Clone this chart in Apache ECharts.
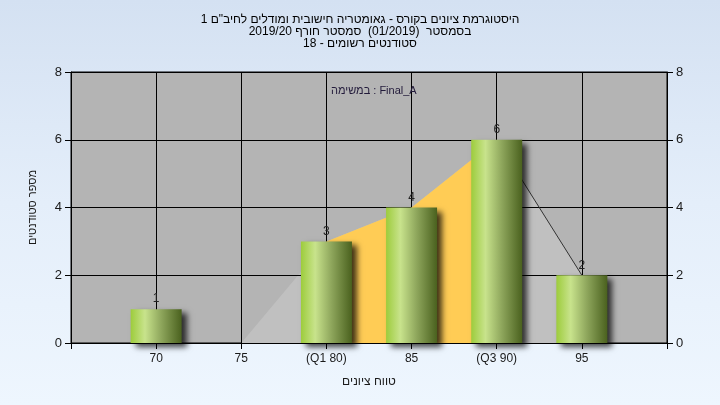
<!DOCTYPE html>
<html>
<head>
<meta charset="utf-8">
<script src="https://cdn.jsdelivr.net/npm/echarts@6/dist/echarts.min.js"></script>
<style>
html,body{margin:0;padding:0;width:720px;height:405px;overflow:hidden;}
body{background:linear-gradient(to bottom,#d4e1f2 0%,#e4eefa 50%,#eef6fe 100%);}
#chart{width:720px;height:405px;}
</style>
</head>
<body>
<div id="chart"></div>
<script>
// ---- data ----
var categories = ['65', '70', '75', '(Q1 80)', '85', '(Q3 90)', '95', '100'];
var hiddenLabels = ['65', '100'];
var counts = ['-', 1, 0, 3, 4, 6, 2, '-'];
var distribution = ['-', 0, 0, 3, 4, 6, 2, '-'];
var interQuartile = ['-', '-', '-', 3, 4, 6, '-', '-'];
var tailLine = ['-', '-', '-', '-', '-', 6, 2, '-'];
var yTicks = [0, 2, 4, 6, 8];
var titleLines = [
  'היסטוגרמת ציונים בקורס - גאומטריה חישובית ומודלים לחיב"ם 1',
  'בסמסטר  (01/2019)  סמסטר חורף 2019/20',
  'סטודנטים רשומים - 18'
];
var taskLabel = 'במשימה : Final_A';
var yName = 'מספר סטודנטים';
var xName = 'טווח ציונים';

var FONT = '"Liberation Sans", "DejaVu Sans", Arial, sans-serif';
var chart = echarts.init(document.getElementById('chart'), null, {renderer: 'canvas'});

var barGradient = new echarts.graphic.LinearGradient(0, 0, 1, 0, [
  {offset: 0, color: '#9dcc3c'},
  {offset: 0.28, color: '#c8e38c'},
  {offset: 0.6, color: '#8ea65c'},
  {offset: 1, color: '#4a611e'}
]);

var yMin = yTicks[0], yMax = yTicks[yTicks.length - 1], yInt = yTicks[1] - yTicks[0];

var option = {
  animation: false,
  backgroundColor: 'transparent',
  textStyle: {fontFamily: FONT},
  title: [
    {
      text: titleLines.map(function (s) { return '\u202B' + s + '\u202C'; }).join('\n'),
      left: 'center',
      top: 9,
      textStyle: {fontSize: 12, fontWeight: 'normal', color: '#000', lineHeight: 12, fontFamily: FONT}
    },
    {
      text: taskLabel,
      left: 326,
      top: 80,
      textStyle: {fontSize: 11, fontWeight: 'normal', color: '#221a3a', fontFamily: FONT}
    }
  ],
  grid: {
    left: 71, right: 53, top: 72, bottom: 62,
    show: true,
    backgroundColor: '#b4b4b4',
    borderColor: '#000',
    borderWidth: 1,
    z: 0
  },
  xAxis: {
    type: 'category',
    data: categories,
    boundaryGap: false,
    z: 3,
    name: xName,
    nameLocation: 'middle',
    nameGap: 33,
    nameTextStyle: {fontSize: 12, color: '#1a1a1a', fontFamily: FONT},
    axisLine: {show: true, lineStyle: {color: '#000', width: 1}},
    axisTick: {show: true, length: 6, inside: false, alignWithLabel: true, lineStyle: {color: '#000'}},
    axisLabel: {
      show: true, margin: 10, fontSize: 12, color: '#1a1a1a', fontFamily: FONT,
      interval: 0,
      formatter: function (v) { return hiddenLabels.indexOf(v) >= 0 ? '' : v; }
    },
    splitLine: {show: true, lineStyle: {color: '#000', width: 1}}
  },
  yAxis: [
    {
      type: 'value', min: yMin, max: yMax, interval: yInt,
      position: 'left',
      z: 3,
      name: yName,
      nameLocation: 'middle',
      nameGap: 33,
      nameRotate: 90,
      nameTextStyle: {fontSize: 11, color: '#1a1a1a', fontFamily: FONT},
      axisLine: {show: true, lineStyle: {color: '#000', width: 1}},
      axisTick: {show: true, length: 6, lineStyle: {color: '#000'}},
      axisLabel: {fontSize: 13, color: '#1a1a1a', margin: 9, fontFamily: FONT},
      splitLine: {show: true, lineStyle: {color: '#000', width: 1}}
    },
    {
      type: 'value', min: yMin, max: yMax, interval: yInt,
      position: 'right',
      z: 3,
      axisLine: {show: true, lineStyle: {color: '#000', width: 1}},
      axisTick: {show: true, length: 6, lineStyle: {color: '#000'}},
      axisLabel: {fontSize: 13, color: '#1a1a1a', margin: 9, fontFamily: FONT},
      splitLine: {show: false}
    }
  ],
  series: [
    {
      type: 'line',
      data: distribution,
      z: 1,
      symbol: 'none',
      silent: true,
      lineStyle: {width: 0, opacity: 0},
      areaStyle: {color: '#c0c0c0', opacity: 1}
    },
    {
      type: 'line',
      data: interQuartile,
      z: 4,
      symbol: 'none',
      silent: true,
      lineStyle: {width: 0, opacity: 0},
      areaStyle: {color: '#ffcc55', opacity: 1}
    },
    {
      type: 'line',
      data: tailLine,
      z: 4,
      symbol: 'none',
      silent: true,
      lineStyle: {width: 1, color: '#333'}
    },
    {
      type: 'bar',
      data: counts,
      z: 5,
      barWidth: 51,
      itemStyle: {
        color: barGradient,
        shadowColor: 'rgba(0,0,0,0.75)',
        shadowBlur: 6,
        shadowOffsetX: 5,
        shadowOffsetY: 4
      },
      label: {
        show: true,
        position: 'top',
        distance: 4,
        fontSize: 12,
        color: '#222',
        fontFamily: FONT,
        formatter: function (p) { return p.value ? String(p.value) : ''; }
      }
    }
  ]
};
chart.setOption(option);
</script>
</body>
</html>
